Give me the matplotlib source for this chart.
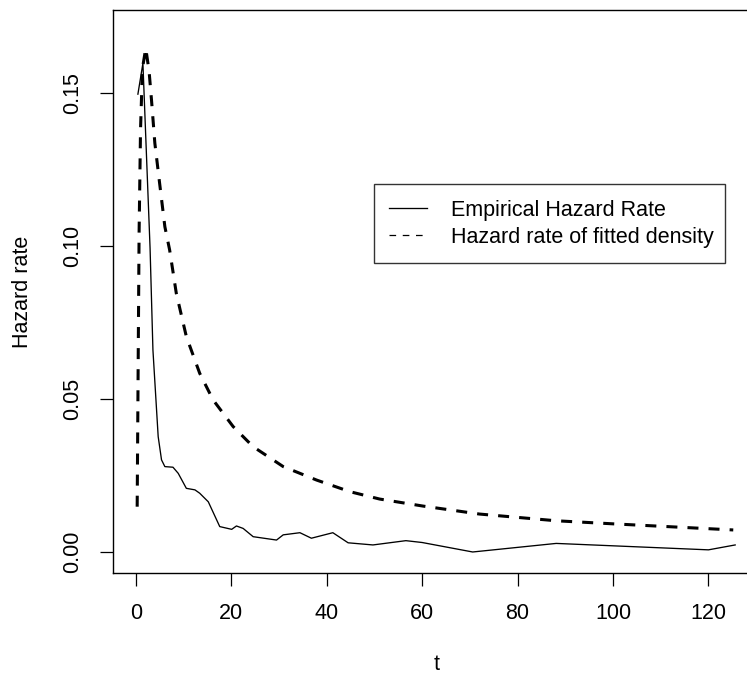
import matplotlib
matplotlib.use('Agg')
import matplotlib.pyplot as plt
from matplotlib.lines import Line2D

plt.rcParams['font.family'] = ['Liberation Sans', 'DejaVu Sans']

# empirical hazard rate (solid line)
t_emp = [0.45, 1.5, 3.0, 3.6, 4.7, 5.4, 6.1, 7.8, 8.9, 10.6, 12.4, 13.4, 15.2,
         17.6, 20.1, 21.1, 22.5, 24.6, 29.5, 30.9, 34.4, 36.8, 41.3, 44.5,
         49.7, 56.6, 60.0, 70.6, 88.1, 120.0, 125.6]
h_emp = [0.1496, 0.1597, 0.0993, 0.0660, 0.0377, 0.0301, 0.0279, 0.0277,
         0.0257, 0.0208, 0.0203, 0.0192, 0.0164, 0.0083, 0.0074, 0.0085,
         0.0077, 0.0050, 0.0039, 0.0056, 0.0063, 0.0045, 0.0063, 0.0030,
         0.0023, 0.0037, 0.0031, 0.0000, 0.0028, 0.0007, 0.0023]

# hazard rate of the fitted density (dashed line)
t_fit = [0.3, 0.5, 0.7, 1.0, 1.4, 2.1, 2.8, 3.3, 4.0, 5.0, 6.1, 7.1, 8.5,
         10.6, 13.4, 16.2, 20.4, 24.6, 30.9, 37.9, 44.9, 51.1, 60.2, 72.0,
         88.1, 100.0, 125.2]
h_fit = [0.0148, 0.0600, 0.1042, 0.1380, 0.1580, 0.1646, 0.1570, 0.1477,
         0.1336, 0.1205, 0.1063, 0.0987, 0.0845, 0.0704, 0.0584, 0.0497,
         0.0410, 0.0344, 0.0279, 0.0235, 0.0197, 0.0173, 0.0150, 0.0124,
         0.0102, 0.0092, 0.0072]

x_ticks = [0, 20, 40, 60, 80, 100, 120]
y_ticks = [0.00, 0.05, 0.10, 0.15]

fig = plt.figure(figsize=(7.47, 6.77), dpi=100)
ax = fig.add_axes([0.1517, 0.1532, 0.8644, 0.832])

ax.plot(t_emp, h_emp, color='black', linewidth=0.95)
ax.plot(t_fit, h_fit, color='black', linewidth=2.2,
        linestyle=(0, (3.6, 3.3)), dash_capstyle='butt')

ax.set_xlim(-4.7, 130.6)
ax.set_ylim(-0.00696, 0.1771)

ax.set_xticks(x_ticks)
ax.set_xticklabels([str(v) for v in x_ticks])
ax.set_yticks(y_ticks)
ax.set_yticklabels([f'{v:.2f}' for v in y_ticks], rotation=90, va='center')

ax.tick_params(axis='both', direction='out', length=9.7, width=0.9,
               labelsize=15.5, pad=12, top=False, right=False)
for sp in ax.spines.values():
    sp.set_linewidth(1.0)

ax.set_xlabel('t', fontsize=15.5, labelpad=21)
ax.set_ylabel('Hazard rate', fontsize=15.5, labelpad=21)

handles = [
    Line2D([], [], color='black', linewidth=0.95),
    Line2D([], [], color='black', linewidth=0.9, linestyle=(0, (5.3, 5.3))),
]
labels = ['Empirical Hazard Rate', 'Hazard rate of fitted density']
leg = ax.legend(handles, labels, loc='upper left', mode='expand',
                bbox_to_anchor=(0.4037, 0.5, 0.5436, 0.1911), fontsize=15.5,
                frameon=True, fancybox=False, shadow=False,
                borderpad=0.72, handlelength=1.75, handletextpad=1.13,
                labelspacing=0.3, borderaxespad=0)
leg.get_frame().set_edgecolor('black')
leg.get_frame().set_linewidth(1.0)

fig.savefig('out.png', dpi=100)
